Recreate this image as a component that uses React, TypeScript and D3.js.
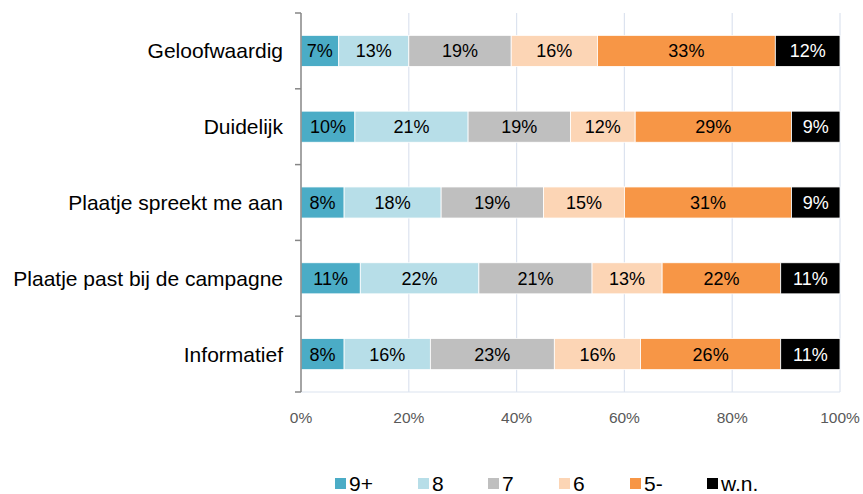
import React, { useEffect, useRef } from 'react';
import * as d3 from 'd3';

const categories = [
  'Geloofwaardig',
  'Duidelijk',
  'Plaatje spreekt me aan',
  'Plaatje past bij de campagne',
  'Informatief',
];
const seriesNames = ['9+', '8', '7', '6', '5-', 'w.n.'];
const seriesColors = ['#4bacc6', '#b7dee8', '#bfbfbf', '#fcd5b5', '#f79646', '#000000'];
// percentages per category, in series order
const values = [
  [7, 13, 19, 16, 33, 12],
  [10, 21, 19, 12, 29, 9],
  [8, 18, 19, 15, 31, 9],
  [11, 22, 21, 13, 22, 11],
  [8, 16, 23, 16, 26, 11],
];
const xTicks = [0, 20, 40, 60, 80, 100];

const App = () => {
  const ref = useRef<SVGSVGElement>(null);

  useEffect(() => {
    const svg = d3.select(ref.current);
    svg.selectAll('*').remove();

    const left = 301;
    const right = 840;
    const top = 13;
    const bottom = 392;
    const font = 'Liberation Sans, Arial, sans-serif';

    const x = d3.scaleLinear().domain([0, 100]).range([left, right]);
    const y = d3.scaleBand().domain(categories).range([top, bottom]).paddingInner(0.59).paddingOuter(0.295);

    // gridlines
    svg.append('g')
      .selectAll('line')
      .data(xTicks.slice(1))
      .enter().append('line')
      .attr('x1', d => x(d)).attr('x2', d => x(d))
      .attr('y1', top).attr('y2', bottom)
      .attr('stroke', '#dce3ef').attr('stroke-width', 1.2);

    // bottom axis line
    svg.append('line')
      .attr('x1', left).attr('x2', right)
      .attr('y1', bottom).attr('y2', bottom)
      .attr('stroke', '#dce3ef').attr('stroke-width', 1.2);

    // bars
    const rows = categories.map((c, i) => {
      let acc = 0;
      return values[i].map((v, j) => {
        const seg = { cat: c, series: j, v, x0: acc, x1: acc + v };
        acc += v;
        return seg;
      });
    }).flat();

    svg.append('g')
      .selectAll('rect')
      .data(rows)
      .enter().append('rect')
      .attr('x', d => x(d.x0))
      .attr('y', d => y(d.cat)!)
      .attr('width', d => x(d.x1) - x(d.x0))
      .attr('height', y.bandwidth())
      .attr('fill', d => seriesColors[d.series])
      .attr('stroke', '#ffffff')
      .attr('stroke-width', 0.8);

    svg.append('g')
      .selectAll('text')
      .data(rows)
      .enter().append('text')
      .attr('x', d => (x(d.x0) + x(d.x1)) / 2)
      .attr('y', d => y(d.cat)! + y.bandwidth() / 2)
      .attr('dy', '0.36em')
      .attr('text-anchor', 'middle')
      .attr('font-family', font)
      .attr('font-size', 18)
      .attr('fill', d => (d.series === 5 ? '#ffffff' : '#000000'))
      .text(d => `${d.v}%`);

    // vertical axis
    svg.append('line')
      .attr('x1', left).attr('x2', left)
      .attr('y1', top).attr('y2', bottom)
      .attr('stroke', '#868686').attr('stroke-width', 1.5);

    const bounds = d3.range(categories.length + 1).map(i => top + (i * (bottom - top)) / categories.length);
    svg.append('g')
      .selectAll('line')
      .data(bounds)
      .enter().append('line')
      .attr('x1', left - 6).attr('x2', left)
      .attr('y1', d => d).attr('y2', d => d)
      .attr('stroke', '#868686').attr('stroke-width', 1.5);

    // category labels
    svg.append('g')
      .selectAll('text')
      .data(categories)
      .enter().append('text')
      .attr('x', left - 18)
      .attr('y', d => y(d)! + y.bandwidth() / 2)
      .attr('dy', '0.36em')
      .attr('text-anchor', 'end')
      .attr('font-family', font)
      .attr('font-size', 21)
      .attr('fill', '#000000')
      .text(d => d);

    // x tick labels
    svg.append('g')
      .selectAll('text')
      .data(xTicks)
      .enter().append('text')
      .attr('x', d => x(d))
      .attr('y', 423)
      .attr('text-anchor', 'middle')
      .attr('font-family', font)
      .attr('font-size', 15.5)
      .attr('fill', '#595959')
      .text(d => `${d}%`);

    // legend
    const legendX = [335, 418, 488, 559, 630, 707];
    const lg = svg.append('g')
      .selectAll('g')
      .data(seriesNames)
      .enter().append('g')
      .attr('transform', (d, i) => `translate(${legendX[i]}, 483.5)`);
    lg.append('rect')
      .attr('x', 0).attr('y', -5.5)
      .attr('width', 11).attr('height', 11)
      .attr('fill', (d, i) => seriesColors[i]);
    lg.append('text')
      .attr('x', 14).attr('y', 0)
      .attr('dy', '0.36em')
      .attr('font-family', font)
      .attr('font-size', 21)
      .attr('fill', '#000000')
      .text(d => d);
  }, []);

  return <svg ref={ref} width={863} height={494} style={{ position: 'absolute', left: 0, top: 0 }} />;
};

export default App;
